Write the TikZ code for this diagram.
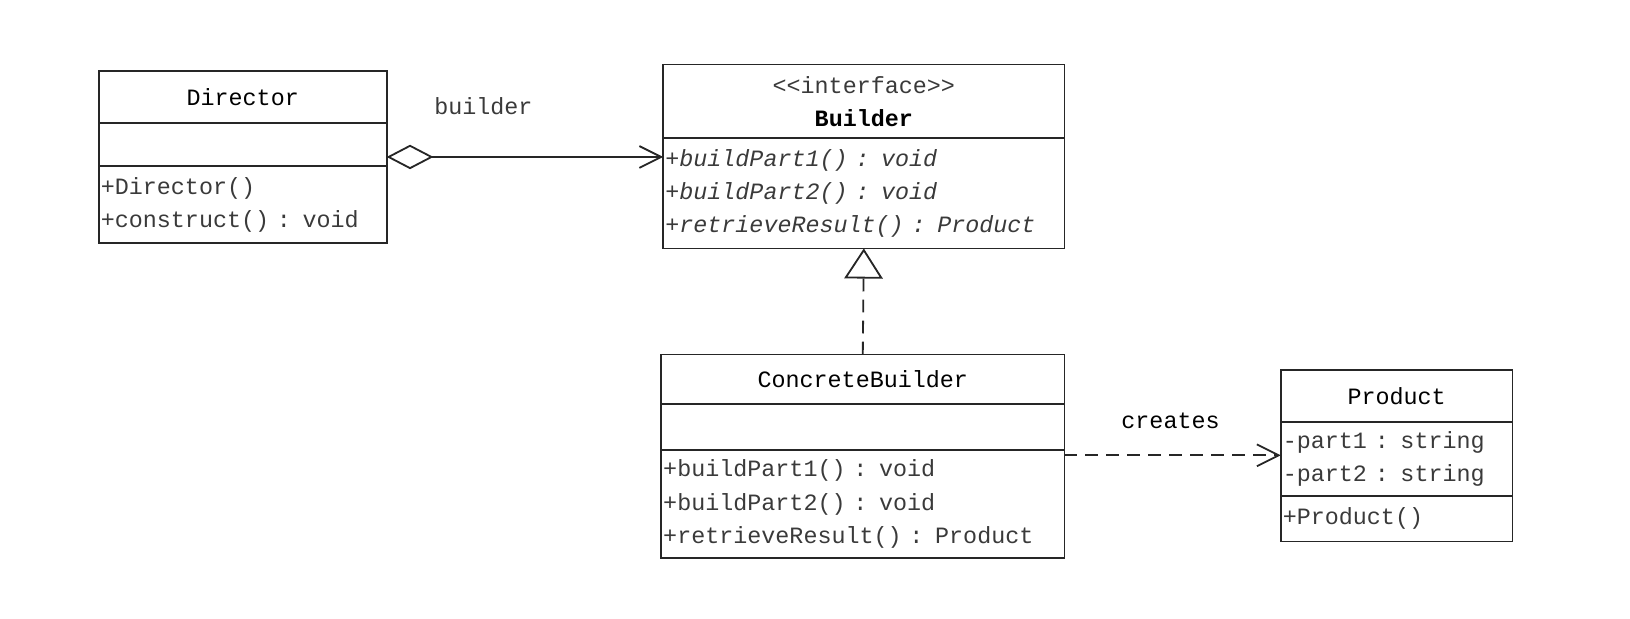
\documentclass[tikz,border=0pt]{standalone}
\usepackage{fontspec}
\setmonofont{Liberation Mono}
\usetikzlibrary{positioning,arrows.meta}

\newcommand\umlfont{\ttfamily\fontsize{12.8pt}{18.2pt}\selectfont}
\definecolor{memgray}{HTML}{3A3A3A}

\begin{document}
\begin{tikzpicture}[x=0.02cm,y=-0.02cm,
  box/.style={draw=black!85,line width=1pt,anchor=north west,inner xsep=0.04cm,inner ysep=0pt,outer sep=0pt,font=\umlfont},
  head/.style={box,align=center},
  members/.style={box,align=left,text=memgray},
  lbl/.style={font=\umlfont,text=memgray},
  aggr/.style={line width=1pt,draw=black!85,{Diamond[open,length=0.9cm,width=0.47cm]}-{Straight Barb[length=0.42cm,width=0.42cm]}},
  realize/.style={line width=1pt,draw=black!85,dash pattern=on 7pt off 4.5pt,-{Triangle[open,length=0.58cm,width=0.74cm]}},
  depend/.style={line width=1pt,draw=black!85,dash pattern=on 7pt off 4.5pt,-{Straight Barb[length=0.42cm,width=0.42cm]}}]
\useasboundingbox (0,0) rectangle (1568,594.5); % page

% Director
\node[head,text width=5.46cm,minimum height=1.0cm] (dirTitle) at (95,68) {Director};
\node[members,text width=5.46cm,minimum height=0.84cm] (dirAttr) at (dirTitle.south west) {};
\node[members,text width=5.46cm,minimum height=1.48cm] (dirMeth) at (dirAttr.south west) {+Director()\\+construct() : void};

% Builder
\node[head,text width=7.64cm,minimum height=1.42cm] (bldTitle) at (638,62) {\textcolor{memgray}{<<interface>>}\\\bfseries Builder};
\node[members,text width=7.64cm,minimum height=2.12cm,font=\umlfont\itshape] (bldMeth) at (bldTitle.south west) {+buildPart1() : void\\+buildPart2() : void\\+retrieveResult() : Product};

% ConcreteBuilder
\node[head,text width=7.68cm,minimum height=0.96cm] (cbTitle) at (636,341) {ConcreteBuilder};
\node[members,text width=7.68cm,minimum height=0.88cm] (cbAttr) at (cbTitle.south west) {};
\node[members,text width=7.68cm,minimum height=2.08cm] (cbMeth) at (cbAttr.south west) {+buildPart1() : void\\+buildPart2() : void\\+retrieveResult() : Product};

% Product
\node[head,text width=4.38cm,minimum height=1.0cm] (prodTitle) at (1232,356) {Product};
\node[members,text width=4.38cm,minimum height=1.42cm] (prodAttr) at (prodTitle.south west) {-part1 : string\\-part2 : string};
\node[members,text width=4.38cm,minimum height=0.88cm] (prodMeth) at (prodAttr.south west) {+Product()};

% connectors
\coordinate (aggS) at ([yshift=-0.24cm]dirAttr.east);
\draw[aggr] (aggS) -- (aggS -| bldMeth.west);
\node[lbl] (lblBuilder) at (465,102) {builder};

\draw[realize] (cbTitle.north) -- (bldMeth.south);

\coordinate (depS) at ([yshift=-0.1cm]cbMeth.north east);
\draw[depend] (depS) -- (depS -| prodAttr.west);
\node[lbl,text=black] (lblCreates) at (1126,405) {creates};
\end{tikzpicture}
\end{document}
